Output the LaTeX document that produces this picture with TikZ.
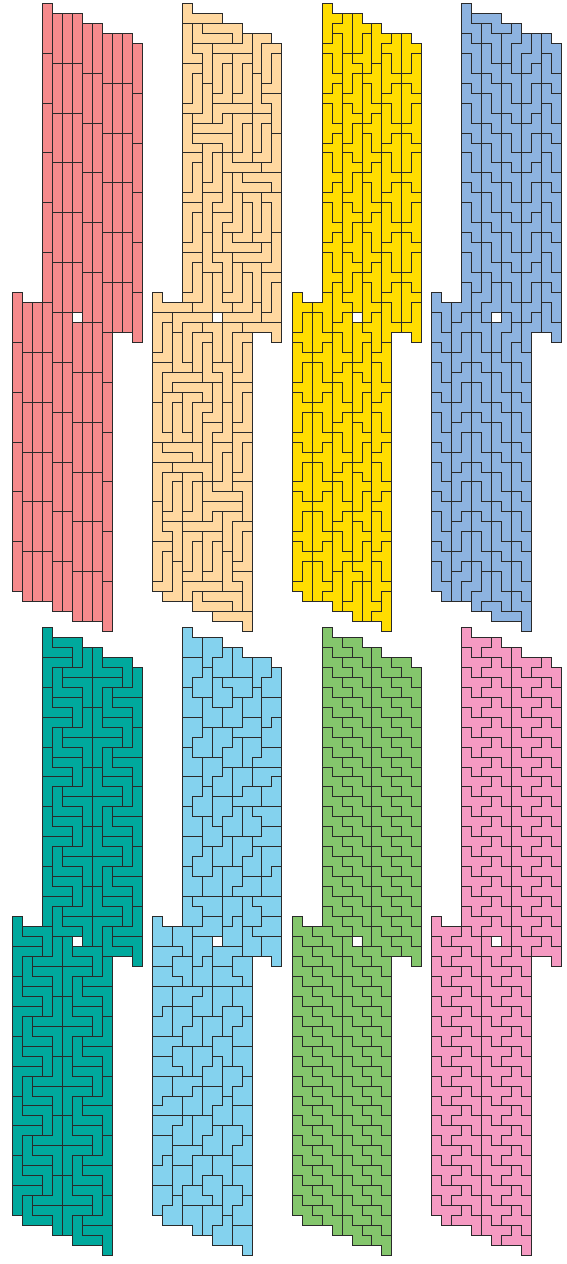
\documentclass[tikz,border=0pt]{standalone}
\definecolor{linecol}{HTML}{2A2A2A}
\definecolor{cRed}{HTML}{F58A8C}
\definecolor{cPeach}{HTML}{FFD8A0}
\definecolor{cYellow}{HTML}{FFDD00}
\definecolor{cBlue}{HTML}{8DB3E0}
\definecolor{cTeal}{HTML}{00A99D}
\definecolor{cSky}{HTML}{84D2EE}
\definecolor{cGreen}{HTML}{84C66C}
\definecolor{cPink}{HTML}{F59AC2}
% polygon from a coordinate list
\newcommand\tp[1]{\draw[tile] plot coordinates {#1} -- cycle;}
% tile in two adjacent columns: left col L rows [a,b), right col rows [c,d)
\newcommand\two[5]{\draw[tile] ({#1},{#2})--({#1+1},{#2})--({#1+1},{#4})--({#1+2},{#4})--({#1+2},{#5})--({#1+1},{#5})--({#1+1},{#3})--({#1},{#3})--cycle;}
\newcommand\panel[4]{\begin{scope}[shift={(#1*0.75pt,-#2*0.75pt)},x=7.4775pt,y=-7.4775pt,
  tile/.style={fill=#3,draw=linecol,line width=0.72pt,line join=miter}]
  #4
  \begin{scope}[cm={-1,0,0,-1,(13,63)}]
  #4
  \end{scope}
\end{scope}}
\newcommand\tilesRed{\foreach \c/\s in {3/0,4/1,5/1,6/1,7/2,8/2,9/3,10/3,11/3,12/4}{\foreach \k in {0,...,5}{\draw[tile] ({\c},{\s+5*\k}) rectangle ++(1,5);}}}
\newcommand\tilesPeach{%
\tp{(3,0)(4,0)(4,1)(7,1)(7,2)(3,2)}\tp{(4,2)(5,2)(5,3)(8,3)(8,4)(4,4)}\tp{(5,2)(9,2)(9,4)(8,4)(8,3)(5,3)}
\tp{(6,4)(9,4)(9,3)(10,3)(10,5)(6,5)}\tp{(3,2)(4,2)(4,5)(5,5)(5,6)(3,6)}\tp{(4,4)(6,4)(6,8)(5,8)(5,5)(4,5)}
\tp{(6,5)(8,5)(8,6)(7,6)(7,9)(6,9)}\tp{(8,5)(10,5)(10,6)(9,6)(9,9)(8,9)}\tp{(7,6)(8,6)(8,10)(6,10)(6,9)(7,9)}
\tp{(9,6)(10,6)(10,10)(8,10)(8,9)(9,9)}\tp{(3,6)(5,6)(5,7)(4,7)(4,10)(3,10)}\tp{(4,7)(5,7)(5,11)(3,11)(3,10)(4,10)}
\tp{(5,8)(6,8)(6,12)(4,12)(4,11)(5,11)}\tp{(3,11)(4,11)(4,14)(5,14)(5,15)(3,15)}\tp{(6,10)(10,10)(10,11)(7,11)(7,12)(6,12)}
\tp{(7,11)(8,11)(8,13)(4,13)(4,12)(7,12)}\tp{(8,11)(10,11)(10,12)(9,12)(9,15)(8,15)}\tp{(9,12)(10,12)(10,16)(8,16)(8,15)(9,15)}
\tp{(10,11)(12,11)(12,12)(11,12)(11,15)(10,15)}\tp{(11,12)(12,12)(12,16)(10,16)(10,15)(11,15)}\tp{(4,13)(8,13)(8,15)(7,15)(7,14)(4,14)}
\tp{(7,15)(8,15)(8,16)(11,16)(11,17)(7,17)}\tp{(12,13)(13,13)(13,17)(11,17)(11,16)(12,16)}\tp{(10,3)(12,3)(12,4)(11,4)(11,7)(10,7)}
\tp{(11,4)(13,4)(13,5)(12,5)(12,8)(11,8)}\tp{(12,5)(13,5)(13,9)(11,9)(11,8)(12,8)}\tp{(10,7)(11,7)(11,10)(12,10)(12,11)(10,11)}
\tp{(11,9)(13,9)(13,13)(12,13)(12,10)(11,10)}\tp{(3,15)(5,15)(5,16)(4,16)(4,19)(3,19)}\tp{(4,16)(5,16)(5,20)(3,20)(3,19)(4,19)}
\tp{(5,14)(7,14)(7,15)(6,15)(6,18)(5,18)}\tp{(6,15)(7,15)(7,19)(5,19)(5,18)(6,18)}\tp{(3,20)(5,20)(5,21)(4,21)(4,24)(3,24)}
\tp{(4,21)(5,21)(5,25)(3,25)(3,24)(4,24)}\tp{(5,19)(7,19)(7,20)(6,20)(6,23)(5,23)}\tp{(7,17)(8,17)(8,21)(6,21)(6,20)(7,20)}
\tp{(8,17)(9,17)(9,18)(12,18)(12,19)(8,19)}\tp{(9,17)(13,17)(13,19)(12,19)(12,18)(9,18)}\tp{(8,19)(9,19)(9,23)(7,23)(7,22)(8,22)}
\tp{(9,19)(11,19)(11,23)(10,23)(10,20)(9,20)}\tp{(9,20)(10,20)(10,24)(8,24)(8,23)(9,23)}\tp{(11,19)(13,19)(13,23)(12,23)(12,20)(11,20)}
\tp{(11,20)(12,20)(12,24)(10,24)(10,23)(11,23)}\tp{(6,21)(8,21)(8,22)(7,22)(7,25)(6,25)}\tp{(7,23)(8,23)(8,24)(11,24)(11,25)(7,25)}
\tp{(5,23)(6,23)(6,26)(7,26)(7,27)(5,27)}\tp{(3,25)(5,25)(5,26)(4,26)(4,29)(3,29)}\tp{(4,26)(5,26)(5,30)(3,30)(3,29)(4,29)}
\tp{(6,25)(8,25)(8,29)(7,29)(7,26)(6,26)}\tp{(11,24)(12,24)(12,26)(8,26)(8,25)(11,25)}\tp{(12,23)(13,23)(13,27)(11,27)(11,26)(12,26)}
\tp{(8,26)(9,26)(9,30)(7,30)(7,29)(8,29)}\tp{(9,26)(11,26)(11,30)(10,30)(10,27)(9,27)}\tp{(9,27)(10,27)(10,31)(8,31)(8,30)(9,30)}
\tp{(11,27)(13,27)(13,28)(12,28)(12,31)(11,31)}\tp{(12,28)(13,28)(13,32)(11,32)(11,31)(12,31)}\tp{(10,30)(11,30)(11,32)(7,32)(7,31)(10,31)}
\tp{(6,27)(7,27)(7,30)(8,30)(8,31)(6,31)}\tp{(5,27)(6,27)(6,31)(4,31)(4,30)(5,30)}\tp{(0,29)(1,29)(1,30)(4,30)(4,31)(0,31)}}
\newcommand\tilesYellow{%
\two{3}{0}{4}{1}{2}\two{4}{2}{3}{1}{5}\two{6}{1}{5}{2}{3}\two{6}{5}{6}{3}{7}\two{8}{2}{6}{3}{4}
\two{2}{30}{31}{29}{33}\two{4}{28}{32}{30}{31}\two{0}{29}{33}{30}{31}
\foreach \k in {0,...,4}{\two{3}{5*\k+4}{5*\k+5}{5*\k+3}{5*\k+7}}
\foreach \k in {1,...,5}{\two{3}{5*\k}{5*\k+4}{5*\k+2}{5*\k+3}
 \two{5}{5*\k}{5*\k+4}{5*\k+1}{5*\k+2}\two{5}{5*\k+4}{5*\k+5}{5*\k+2}{5*\k+6}
 \two{7}{5*\k+2}{5*\k+3}{5*\k+1}{5*\k+5}\two{7}{5*\k+3}{5*\k+7}{5*\k+5}{5*\k+6}}
\foreach \k in {1,...,6}{\two{9}{5*\k}{5*\k+4}{5*\k+2}{5*\k+3}}
\foreach \k in {0,...,5}{\two{9}{5*\k+4}{5*\k+5}{5*\k+3}{5*\k+7}
 \two{11}{5*\k+3}{5*\k+7}{5*\k+4}{5*\k+5}\two{11}{5*\k+7}{5*\k+8}{5*\k+5}{5*\k+9}}}
\newcommand\tilesBlue{%
\tp{(4,1)(7,1)(7,2)(8,2)(8,3)(6,3)(6,2)(4,2)}
\two{4}{29}{31}{27}{30}\two{5}{30}{32}{28}{31}\two{7}{3}{6}{2}{4}\two{8}{4}{7}{3}{5}
\foreach \k in {0,...,5}{\two{3}{5*\k}{5*\k+3}{5*\k+2}{5*\k+4}
 \two{9}{5*\k+5}{5*\k+7}{5*\k+3}{5*\k+6}\two{11}{5*\k+3}{5*\k+5}{5*\k+4}{5*\k+7}}
\foreach \k in {0,...,4}{\two{3}{5*\k+3}{5*\k+5}{5*\k+4}{5*\k+7}
 \two{5}{5*\k+2}{5*\k+4}{5*\k+3}{5*\k+6}\two{5}{5*\k+4}{5*\k+7}{5*\k+6}{5*\k+8}}
\foreach \k in {1,...,5}{\two{7}{5*\k+1}{5*\k+3}{5*\k+2}{5*\k+5}\two{7}{5*\k+3}{5*\k+6}{5*\k+5}{5*\k+7}}
\foreach \k in {1,...,6}{\two{9}{5*\k+2}{5*\k+5}{5*\k+1}{5*\k+3}\two{11}{5*\k}{5*\k+3}{5*\k+2}{5*\k+4}}}
\newcommand\tilesTeal{\foreach \k in {0,...,4}{\begin{scope}[shift={(0,{6*\k})}]
\tp{(3,0)(4,0)(4,2)(6,2)(6,3)(3,3)}\tp{(4,1)(7,1)(7,4)(6,4)(6,2)(4,2)}\tp{(7,2)(8,2)(8,5)(5,5)(5,4)(7,4)}
\tp{(3,3)(6,3)(6,4)(4,4)(4,6)(3,6)}\tp{(4,4)(5,4)(5,6)(7,6)(7,7)(4,7)}\tp{(5,5)(8,5)(8,8)(7,8)(7,6)(5,6)}
\tp{(8,2)(9,2)(9,4)(11,4)(11,5)(8,5)}\tp{(9,3)(12,3)(12,6)(11,6)(11,4)(9,4)}\tp{(12,4)(13,4)(13,7)(10,7)(10,6)(12,6)}
\tp{(8,5)(11,5)(11,6)(9,6)(9,8)(8,8)}\tp{(9,6)(10,6)(10,8)(12,8)(12,9)(9,9)}\tp{(10,7)(13,7)(13,10)(12,10)(12,8)(10,8)}
\end{scope}}}
\newcommand\tilesSky{%
\tp{(3,0)(4,0)(4,1)(5,1)(5,3)(3,3)}\tp{(5,1)(7,1)(7,3)(6,3)(6,4)(5,4)}\tp{(7,2)(8,2)(8,5)(6,5)(6,3)(7,3)}
\tp{(8,2)(9,2)(9,3)(10,3)(10,5)(8,5)}\tp{(10,3)(12,3)(12,5)(11,5)(11,6)(10,6)}\tp{(12,4)(13,4)(13,7)(11,7)(11,5)(12,5)}
\tp{(3,3)(5,3)(5,5)(4,5)(4,6)(3,6)}\tp{(5,4)(6,4)(6,7)(4,7)(4,5)(5,5)}\tp{(6,5)(7,5)(7,6)(8,6)(8,8)(6,8)}
\tp{(7,5)(10,5)(10,7)(8,7)(8,6)(7,6)}\tp{(10,6)(11,6)(11,9)(9,9)(9,7)(10,7)}\tp{(11,7)(13,7)(13,9)(12,9)(12,10)(11,10)}
\tp{(3,6)(4,6)(4,7)(5,7)(5,9)(3,9)}\tp{(5,7)(6,7)(6,8)(7,8)(7,10)(5,10)}\tp{(8,7)(9,7)(9,10)(7,10)(7,8)(8,8)}
\tp{(9,9)(11,9)(11,11)(8,11)(8,10)(9,10)}\tp{(12,9)(13,9)(13,12)(11,12)(11,10)(12,10)}\tp{(3,9)(5,9)(5,11)(4,11)(4,12)(3,12)}
\tp{(5,10)(6,10)(6,13)(4,13)(4,11)(5,11)}\tp{(6,10)(8,10)(8,12)(7,12)(7,13)(6,13)}\tp{(8,11)(9,11)(9,14)(7,14)(7,12)(8,12)}
\tp{(9,11)(11,11)(11,13)(10,13)(10,14)(9,14)}\tp{(11,12)(13,12)(13,14)(10,14)(10,13)(11,13)}\tp{(3,12)(4,12)(4,13)(5,13)(5,15)(3,15)}
\tp{(5,13)(7,13)(7,15)(6,15)(6,16)(5,16)}\tp{(7,14)(8,14)(8,17)(6,17)(6,15)(7,15)}\tp{(8,14)(10,14)(10,16)(9,16)(9,17)(8,17)}
\tp{(10,14)(13,14)(13,15)(12,15)(12,16)(10,16)}\tp{(12,15)(13,15)(13,18)(11,18)(11,16)(12,16)}\tp{(9,16)(11,16)(11,18)(8,18)(8,17)(9,17)}
\tp{(3,15)(5,15)(5,17)(4,17)(4,18)(3,18)}\tp{(5,16)(6,16)(6,19)(4,19)(4,17)(5,17)}\tp{(6,17)(8,17)(8,19)(7,19)(7,20)(6,20)}
\tp{(8,18)(9,18)(9,21)(7,21)(7,19)(8,19)}\tp{(9,18)(10,18)(10,19)(11,19)(11,21)(9,21)}\tp{(10,18)(13,18)(13,20)(11,20)(11,19)(10,19)}
\tp{(11,20)(13,20)(13,22)(10,22)(10,21)(11,21)}\tp{(3,18)(4,18)(4,19)(5,19)(5,21)(3,21)}\tp{(5,19)(6,19)(6,20)(7,20)(7,22)(5,22)}
\tp{(7,21)(8,21)(8,24)(6,24)(6,22)(7,22)}\tp{(8,21)(10,21)(10,23)(9,23)(9,24)(8,24)}\tp{(10,22)(11,22)(11,25)(9,25)(9,23)(10,23)}
\tp{(11,22)(13,22)(13,24)(12,24)(12,25)(11,25)}\tp{(3,21)(5,21)(5,23)(4,23)(4,24)(3,24)}\tp{(5,22)(6,22)(6,25)(4,25)(4,23)(5,23)}
\tp{(6,24)(7,24)(7,27)(5,27)(5,25)(6,25)}\tp{(3,24)(4,24)(4,25)(5,25)(5,27)(3,27)}\tp{(7,24)(9,24)(9,26)(8,26)(8,27)(7,27)}
\tp{(9,25)(11,25)(11,27)(8,27)(8,26)(9,26)}\tp{(12,24)(13,24)(13,27)(11,27)(11,25)(12,25)}\tp{(3,27)(4,27)(4,28)(5,28)(5,30)(3,30)}
\tp{(4,27)(7,27)(7,29)(5,29)(5,28)(4,28)}\tp{(7,27)(9,27)(9,29)(8,29)(8,30)(7,30)}\tp{(5,29)(7,29)(7,31)(4,31)(4,30)(5,30)}
\tp{(8,29)(9,29)(9,32)(7,32)(7,30)(8,30)}\tp{(9,27)(10,27)(10,28)(11,28)(11,30)(9,30)}\tp{(10,27)(13,27)(13,29)(11,29)(11,28)(10,28)}
\tp{(11,29)(13,29)(13,31)(10,31)(10,30)(11,30)}\tp{(9,30)(10,30)(10,31)(11,31)(11,33)(9,33)}\tp{(11,31)(13,31)(13,34)(12,34)(12,33)(11,33)}}
\newcommand\greenpair{\tp{(3,0)(4,0)(4,1)(5,1)(5,2)(6,2)(6,3)(4,3)(4,2)(3,2)}\tp{(5,1)(7,1)(7,2)(8,2)(8,4)(7,4)(7,3)(6,3)(6,2)(5,2)}}
\newcommand\tilesGreen{\foreach \k in {0,...,14}{\begin{scope}[shift={(0,{2*\k})}]\greenpair\end{scope}\begin{scope}[shift={(5,{2+2*\k})}]\greenpair\end{scope}}}
\newcommand\pinkpair{\tp{(3,0)(4,0)(4,1)(6,1)(6,2)(5,2)(5,3)(4,3)(4,2)(3,2)}\tp{(6,1)(7,1)(7,2)(8,2)(8,4)(7,4)(7,3)(5,3)(5,2)(6,2)}}
\newcommand\tilesPink{\foreach \k in {0,...,14}{\begin{scope}[shift={(0,{2*\k})}]\pinkpair\end{scope}\begin{scope}[shift={(5,{2+2*\k})}]\pinkpair\end{scope}}}
\begin{document}
\begin{tikzpicture}
\useasboundingbox (0,0) rectangle (425.25pt,-948pt);
\fill[white] (0,0) rectangle (425.25pt,-948pt);
\panel{12.4}{3.4}{cRed}{\tilesRed}
\panel{152.3}{3.4}{cPeach}{\tilesPeach}
\panel{292.2}{3.4}{cYellow}{\tilesYellow}
\panel{431.9}{3.4}{cBlue}{\tilesBlue}
\panel{12.4}{627.4}{cTeal}{\tilesTeal}
\panel{152.3}{627.4}{cSky}{\tilesSky}
\panel{292.2}{627.4}{cGreen}{\tilesGreen}
\panel{431.9}{627.4}{cPink}{\tilesPink}
\end{tikzpicture}
\end{document}
